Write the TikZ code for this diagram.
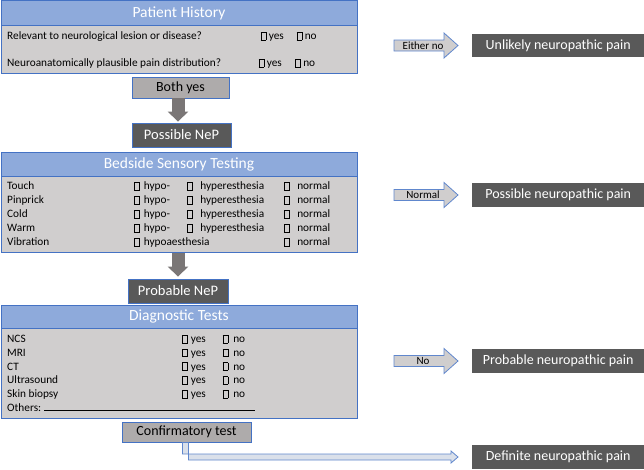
\documentclass[tikz,border=0pt]{standalone}
\usepackage{fontspec}
\setmainfont{Carlito}
\usetikzlibrary{calc,arrows.meta}
\definecolor{bdr}{HTML}{4472C4}
\definecolor{headblue}{HTML}{8EAADB}
\definecolor{bodygray}{HTML}{D0CECE}
\definecolor{btngray}{HTML}{AEABAB}
\definecolor{darkbox}{HTML}{595959}
\definecolor{arrgray}{HTML}{7A7676}
\definecolor{bentfill}{HTML}{DAE0EA}
\newcommand\cbx{{\setlength\fboxsep{0pt}\setlength\fboxrule{0.7pt}\fbox{\rule{0pt}{7pt}\rule{4.2pt}{0pt}}}}
\newcommand\fs[1]{\fontsize{#1}{#1}\selectfont}
\newcommand\sidearr[3]{%
  \draw[sidearrow] ($(#1.west)+(-78,-5.5)$) -- ($(#1.west)+(-28,-5.5)$) -- ($(#1.west)+(-28,-12.5)$)
    -- ($(#1.west)+(-14,0)$) -- ($(#1.west)+(-28,12.5)$) -- ($(#1.west)+(-28,5.5)$)
    -- ($(#1.west)+(-78,5.5)$) -- cycle;
  \node[arrowlbl] (#2) at ($(#1.west)+(-49,0)$) {#3};}
\begin{document}
\begin{tikzpicture}[x=1pt,y=-1pt,
  sec/.style={draw=bdr, line width=0.9pt, anchor=north west, inner sep=0, minimum width=356},
  secbody/.style={sec, fill=bodygray},
  sechead/.style={sec, fill=headblue, text=white, font=\fs{15.5}},
  txt/.style={anchor=base west, inner sep=0, font=\fs{11.3}},
  btn/.style={draw=bdr, line width=0.8pt, fill=btngray, font=\fs{14}, inner sep=0},
  nep/.style={draw=bdr, line width=0.8pt, fill=darkbox, text=white, font=\fs{14.5}, inner sep=0},
  result/.style={fill=darkbox, text=white, font=\fs{14}, inner sep=0, minimum width=172, anchor=west},
  sidearrow/.style={draw=bdr!85!white, fill=bodygray, line width=0.8pt},
  arrowlbl/.style={font=\fs{11}, inner sep=0},
  bigarrow/.style={draw=arrgray, line width=13pt, -{Triangle[width=20pt,length=10pt]}},
  bentarrow/.style={draw=bdr!85!white, fill=bentfill, line width=0.8pt}]
\useasboundingbox (0,0) rectangle (644,469);

% ---------- Patient History ----------
\node[secbody, minimum height=73] (phb) at (0.5,0) {};
\node[sechead, minimum height=25] (phh) at (0.5,0) {Patient History};
\node[txt] (q1) at (7,39.5) {Relevant to neurological lesion or disease?};
\node[txt] (q1y) at (260.5,39.5) {\cbx\hspace{2.5pt}yes};
\node[txt] (q1n) at (296.5,39.5) {\cbx\hspace{2.5pt}no};
\node[txt] (q2) at (7,66.5) {Neuroanatomically plausible pain distribution?};
\node[txt] (q2y) at (258.5,66.5) {\cbx\hspace{2.5pt}yes};
\node[txt] (q2n) at (295,66.5) {\cbx\hspace{2.5pt}no};

\node[btn, minimum width=97, minimum height=21] (by) at (180.5,87.5) {Both yes};
\node[nep, minimum width=99, minimum height=24] (pn) at (181.5,135) {Possible NeP};
\draw[bigarrow, shorten >=1pt] (by.south) ++(-2.5,0) coordinate (a1s) -- (a1s |- pn.north);

\node[result, minimum height=23] (unl) at (472,45.5) {Unlikely neuropathic pain};
\sidearr{unl}{eno}{Either no}

% ---------- Bedside Sensory Testing ----------
\node[secbody, minimum height=100] (bsb) at (0.5,152) {};
\node[sechead, minimum height=24] (bsh) at (0.5,152) {Bedside Sensory Testing};
\foreach \lab [count=\i] in {Touch,Pinprick,Cold,Warm} {
  \node[txt] (bl\i) at (7,{175.5+14*\i}) {\lab};
  \node[txt] (bo\i) at (134,{175.5+14*\i}) {\cbx\hspace{4pt}hypo-};
  \node[txt] (br\i) at (187,{175.5+14*\i}) {\cbx\hspace{7.5pt}hyperesthesia};
  \node[txt] (bn\i) at (284,{175.5+14*\i}) {\cbx\hspace{7.5pt}normal};
}
\node[txt] (bl5) at (7,245.5) {Vibration};
\node[txt] (bo5) at (134,245.5) {\cbx\hspace{4pt}hypoaesthesia};
\node[txt] (bn5) at (284,245.5) {\cbx\hspace{7.5pt}normal};

\node[nep, minimum width=100, minimum height=24] (pr) at (178,291) {Probable NeP};
\draw[bigarrow, shorten >=2pt] (bsb.south -| pr.north) -- (pr.north);

\node[result, minimum height=24] (pos) at (472,195) {Possible neuropathic pain};
\sidearr{pos}{nrm}{Normal}

% ---------- Diagnostic Tests ----------
\node[secbody, minimum height=113] (dtb) at (0.5,305) {};
\node[sechead, minimum height=23] (dth) at (0.5,305) {Diagnostic Tests};
\foreach \lab [count=\i] in {NCS,MRI,CT,Ultrasound,Skin biopsy} {
  \node[txt] (dl\i) at (7,{328.7+13.8*\i}) {\lab};
  \node[txt] (dy\i) at (182,{328.7+13.8*\i}) {\cbx\hspace{3pt}yes};
  \node[txt] (dn\i) at (222.5,{328.7+13.8*\i}) {\cbx\hspace{5pt}no};
}
\node[txt] (oth) at (7,411.5) {Others:};
\draw[line width=0.7pt] ($(oth.base east)+(3,-1.5)$) -- ++(211,0);

\node[result, minimum height=24] (prob) at (472,361) {Probable neuropathic pain};
\sidearr{prob}{nno}{No}

\node[btn, minimum width=129, minimum height=20] (conf) at (186.5,432) {Confirmatory test};
\node[result, minimum height=24] (def) at (472,457) {Definite neuropathic pain};
\draw[bentarrow] ($(conf.south)+(-4,0)$) |- ($(def.west)+(-21,-3)$) -- ($(def.west)+(-21,-6)$)
  -- ($(def.west)+(-14,0)$) -- ($(def.west)+(-21,6)$) -- ($(def.west)+(-21,3)$)
  -| ($(conf.south)+(2,0)$) -- cycle;
\end{tikzpicture}
\end{document}
